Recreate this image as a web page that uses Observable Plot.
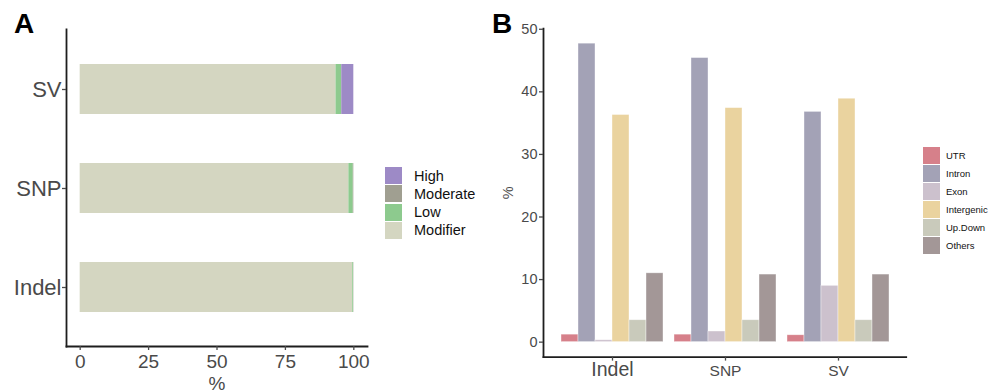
<!DOCTYPE html>
<html>
<head>
<meta charset="utf-8">
<script src="https://cdn.jsdelivr.net/npm/d3@7"></script>
<script src="https://cdn.jsdelivr.net/npm/@observablehq/plot@0.6"></script>
<style>
  html, body { margin: 0; padding: 0; background: #fff; }
  body { width: 997px; height: 392px; position: relative; overflow: hidden;
         font-family: "Liberation Sans", Arial, sans-serif; }
  .abs { position: absolute; }
  .panel-tag { position: absolute; font-weight: bold; font-size: 28px; line-height: 1; color: #000; }
  .legend { position: absolute; }
  .legend .row { position: absolute; left: 0; display: flex; align-items: center; }
  .legend .key { flex: none; }
  .legend .lab { color: #111; white-space: nowrap; }
</style>
</head>
<body>
<div id="root"></div>
<script>
// ---------------- Panel A data: functional impact (%) ----------------
const variantTypes = ["SV", "SNP", "Indel"];
const impactLevels = ["High", "Moderate", "Low", "Modifier"];
const impactColors = ["#9d8ac6", "#a09f91", "#8dca8e", "#d4d6c1"];
const impactModifier = [93.5, 98.2, 99.6];
const impactLow      = [2.0, 1.6, 0.3];
const impactModerate = [0.1, 0.2, 0.1];
const impactHigh     = [4.4, 0.0, 0.0];
const impactTicks = [0, 25, 50, 75, 100];

// ---------------- Panel B data: genomic region (%) ----------------
const regionGroups = ["Indel", "SNP", "SV"];
const regionClasses = ["UTR", "Intron", "Exon", "Intergenic", "Up.Down", "Others"];
const regionColors = ["#d6808a", "#a3a2b6", "#ccc1cd", "#ead39f", "#c9cabb", "#a39797"];
const regionUTR        = [1.2, 1.2, 1.1];
const regionIntron     = [47.7, 45.4, 36.8];
const regionExon       = [0.3, 1.7, 9.0];
const regionIntergenic = [36.3, 37.4, 38.9];
const regionUpDown     = [3.5, 3.5, 3.5];
const regionOthers     = [11.0, 10.8, 10.8];
const regionTicks = [0, 10, 20, 30, 40, 50];

// ---------------- tables built from arrays ----------------
const impactSeries = {Modifier: impactModifier, Low: impactLow, Moderate: impactModerate, High: impactHigh};
const stackOrder = ["Modifier", "Low", "Moderate", "High"];
const rowsA = [];
variantTypes.forEach((t, i) => stackOrder.forEach(lv => rowsA.push({type: t, level: lv, value: impactSeries[lv][i]})));

const regionSeries = [regionUTR, regionIntron, regionExon, regionIntergenic, regionUpDown, regionOthers];
const rowsB = [];
regionGroups.forEach((g, i) => regionClasses.forEach((c, j) => rowsB.push({group: g, cls: c, value: regionSeries[j][i]})));

const FONT = '"Liberation Sans", Arial, sans-serif';
const AXIS = "#1e1e1e";
const TEXT = "#4a4a4a";
const root = document.getElementById("root");

function place(node, left, top) {
  node.classList.add("abs");
  node.style.left = left + "px";
  node.style.top = top + "px";
  root.appendChild(node);
}

// ---------------- Panel A ----------------
const plotA = Plot.plot({
  width: 380, height: 392,
  marginLeft: 66, marginRight: 13, marginTop: 29, marginBottom: 46,
  style: {fontFamily: FONT, background: "transparent", color: TEXT},
  x: {domain: [-5, 105]},
  y: {domain: variantTypes, type: "band", paddingInner: 0.5, paddingOuter: 0.35},
  color: {domain: impactLevels, range: impactColors},
  marks: [
    Plot.barX(rowsA, Plot.stackX({x: "value", y: "type", fill: "level"})),
    Plot.frame({anchor: "left", stroke: AXIS, strokeWidth: 1.8}),
    Plot.frame({anchor: "bottom", stroke: AXIS, strokeWidth: 1.8}),
    Plot.axisX(impactTicks, {tickSize: 4, tickPadding: 4, fontSize: 19, strokeWidth: 1.3,
      label: "%", labelAnchor: "center", labelArrow: false, labelOffset: 43}),
    Plot.axisY({tickSize: 4, tickPadding: 1, fontSize: 22, strokeWidth: 1.3, label: null})
  ]
});
place(plotA, 0, 0);

// Legend A
const legA = document.createElement("div");
legA.className = "legend";
impactLevels.forEach((lv, i) => {
  const row = document.createElement("div");
  row.className = "row";
  row.style.top = (i * 18.3) + "px";
  row.style.height = "17px";
  const key = document.createElement("div");
  key.className = "key";
  key.style.cssText = `width:17px;height:17px;background:${impactColors[i]}`;
  const lab = document.createElement("div");
  lab.className = "lab";
  lab.style.cssText = "font-size:14.5px;margin-left:12px;color:#111";
  lab.textContent = lv;
  row.append(key, lab);
  legA.appendChild(row);
});
place(legA, 385, 167);

// ---------------- Panel B ----------------
const W_B = 517, MB = {left: 63, right: 91.3, top: 28.2, bottom: 35.4};
const yDomB = [-2.39, 50.09];

const plotBbars = Plot.plot({
  width: W_B, height: 392,
  marginLeft: MB.left, marginRight: MB.right, marginTop: MB.top, marginBottom: MB.bottom,
  style: {fontFamily: FONT, background: "transparent"},
  fx: {domain: regionGroups, paddingInner: 0.1, paddingOuter: 0.15, axis: null, label: null},
  x: {domain: regionClasses, type: "band", paddingInner: 0, paddingOuter: 0, axis: null},
  y: {domain: yDomB, axis: null},
  color: {domain: regionClasses, range: regionColors},
  marks: [
    Plot.barY(rowsB, {fx: "group", x: "cls", y: "value", fill: "cls",
      stroke: "#ffffff", strokeOpacity: 0.55, strokeWidth: 0.7})
  ]
});
place(plotBbars, 480, 0);

const plotBaxes = Plot.plot({
  width: W_B, height: 392,
  marginLeft: MB.left, marginRight: MB.right, marginTop: MB.top, marginBottom: MB.bottom,
  style: {fontFamily: FONT, background: "transparent", color: TEXT},
  x: {domain: regionGroups, type: "band", paddingInner: 0.1, paddingOuter: 0.15},
  y: {domain: yDomB},
  marks: [
    Plot.frame({anchor: "left", stroke: AXIS, strokeWidth: 1.8}),
    Plot.frame({anchor: "bottom", stroke: AXIS, strokeWidth: 1.8}),
    Plot.axisY(regionTicks, {tickSize: 4, tickPadding: 2, fontSize: 14.5, strokeWidth: 1.3,
      label: "%", labelAnchor: "center", labelArrow: false, labelOffset: 41}),
    Plot.axisX({tickSize: 4, strokeWidth: 1.3, tickFormat: () => "", label: null}),
    Plot.text(regionGroups, {x: d => d, frameAnchor: "bottom", lineAnchor: "bottom", dy: 18.4,
      text: d => d, fill: TEXT, fontSize: d => (d === "Indel" ? 19.5 : 15.5)})
  ]
});
plotBaxes.style.pointerEvents = "none";
place(plotBaxes, 480, 0);

// Legend B
const legB = document.createElement("div");
legB.className = "legend";
regionClasses.forEach((c, i) => {
  const row = document.createElement("div");
  row.className = "row";
  row.style.top = (i * 18) + "px";
  row.style.height = "17px";
  const key = document.createElement("div");
  key.className = "key";
  key.style.cssText = `width:17px;height:17px;background:${regionColors[i]}`;
  const lab = document.createElement("div");
  lab.className = "lab";
  lab.style.cssText = "font-size:9.5px;margin-left:6px;color:#111";
  lab.textContent = c;
  row.append(key, lab);
  legB.appendChild(row);
});
place(legB, 923, 147);

// Panel tags
const tagA = document.createElement("div");
tagA.className = "panel-tag"; tagA.textContent = "A";
tagA.style.left = "14px"; tagA.style.top = "10px";
root.appendChild(tagA);
const tagB = document.createElement("div");
tagB.className = "panel-tag"; tagB.textContent = "B";
tagB.style.left = "492px"; tagB.style.top = "10px";
root.appendChild(tagB);
</script>
</body>
</html>
